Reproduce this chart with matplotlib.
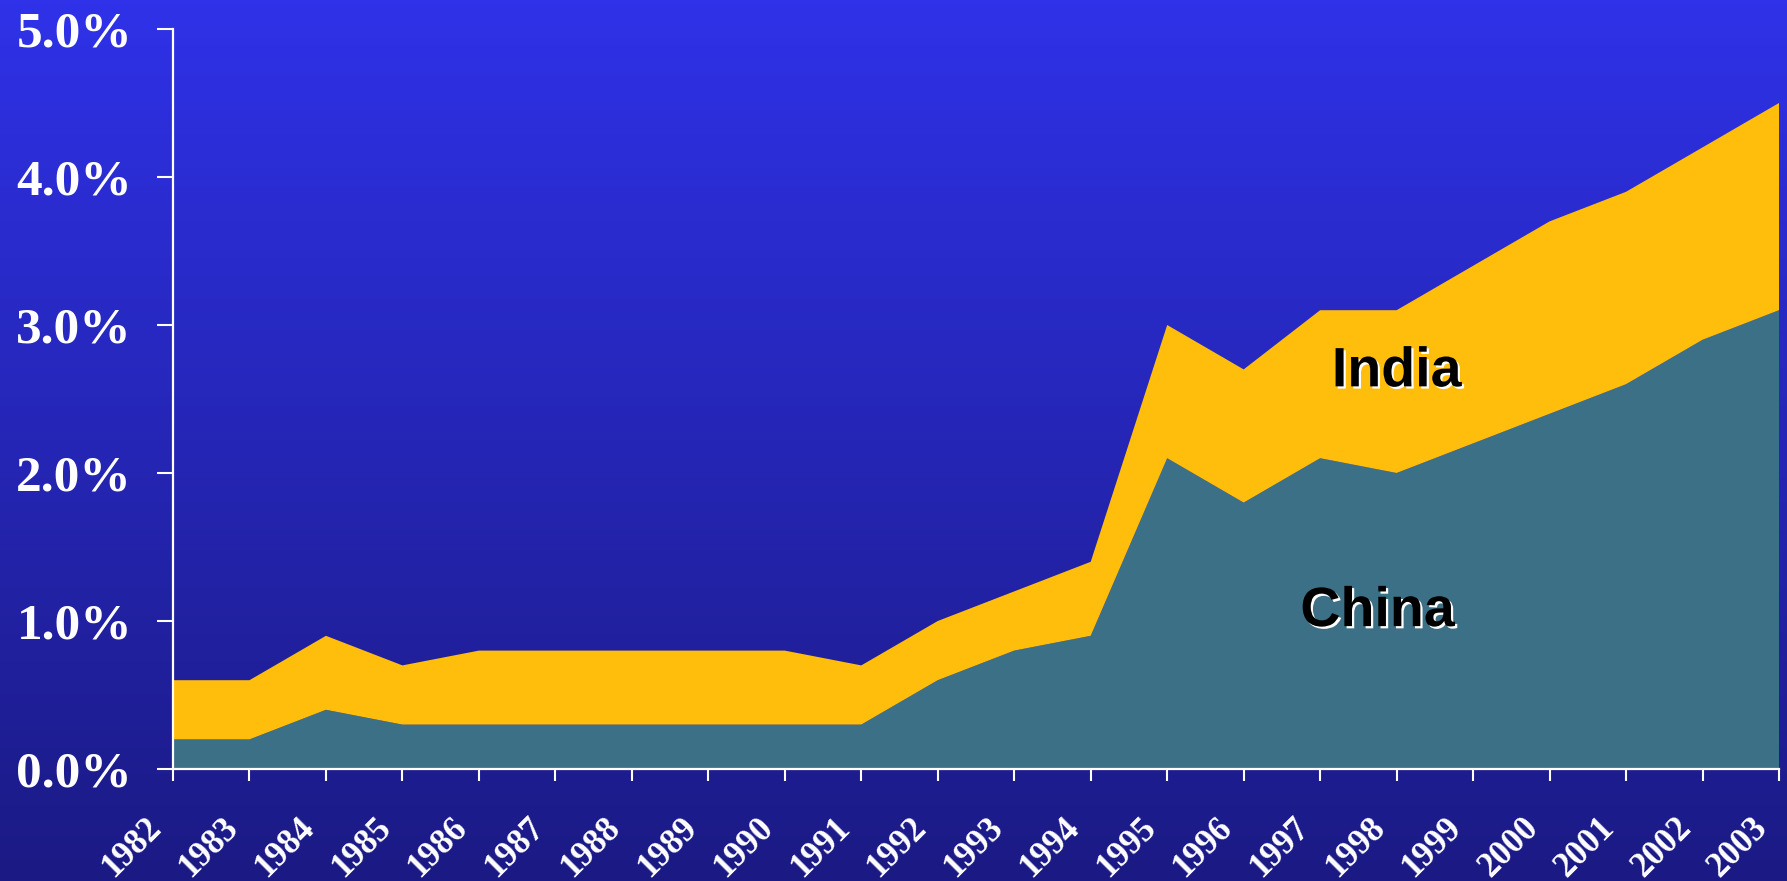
import numpy as np
import matplotlib
matplotlib.use("Agg")
import matplotlib.pyplot as plt
import matplotlib.patheffects as pe
from matplotlib.colors import LinearSegmentedColormap
from matplotlib.transforms import ScaledTranslation

years = list(range(1982, 2004))
china = [0.2, 0.2, 0.4, 0.3, 0.3, 0.3, 0.3, 0.3, 0.3, 0.3, 0.6,
         0.8, 0.9, 2.1, 1.8, 2.1, 2.0, 2.2, 2.4, 2.6, 2.9, 3.1]
india = [0.4, 0.4, 0.5, 0.4, 0.5, 0.5, 0.5, 0.5, 0.5, 0.4, 0.4,
         0.4, 0.5, 0.9, 0.9, 1.0, 1.1, 1.2, 1.3, 1.3, 1.3, 1.4]
y_ticks = [0, 1, 2, 3, 4, 5]
y_labels = ["0.0%", "1.0%", "2.0%", "3.0%", "4.0%", "5.0%"]

W, H, DPI = 1787, 881, 100
fig = plt.figure(figsize=(W / DPI, H / DPI), dpi=DPI)

# vertical gradient background
bg = fig.add_axes([0, 0, 1, 1], zorder=-10)
grad = np.linspace(0, 1, 256).reshape(-1, 1)
cmap = LinearSegmentedColormap.from_list("bg", ["#2F32E8", "#1B1A84"])
bg.imshow(grad, aspect="auto", cmap=cmap, extent=[0, 1, 0, 1])
bg.set_axis_off()

ax = fig.add_axes([173 / W, 1 - 769 / H, (1779 - 173) / W, (769 - 29) / H])
ax.set_facecolor("none")

ax.stackplot(years, china, india, colors=["#3C7086", "#FFBE0C"], linewidth=0)

ax.set_xlim(1982, 2003)
ax.set_ylim(0, 5)

for s in ["top", "right"]:
    ax.spines[s].set_visible(False)
for s in ["left", "bottom"]:
    ax.spines[s].set_color("white")
    ax.spines[s].set_linewidth(1.6)

ax.set_yticks(y_ticks)
ax.set_yticklabels(y_labels, fontfamily="Liberation Serif", fontweight="bold",
                   fontsize=37, color="white")
ax.tick_params(axis="y", direction="out", length=11.5, width=1.5,
               color="white", pad=18)

ax.set_xticks(years)
ax.set_xticklabels([str(y) for y in years], fontfamily="Liberation Serif",
                   fontweight="bold", fontsize=25, color="white",
                   rotation=45, ha="right", va="top", rotation_mode="anchor")
ax.tick_params(axis="x", direction="out", length=8.6, width=1.5,
               color="white", pad=6)
offset = ScaledTranslation(-28 / DPI, -22 / DPI, fig.dpi_scale_trans)
for lbl in ax.get_xticklabels():
    lbl.set_transform(lbl.get_transform() + offset)

shadow = [pe.withSimplePatchShadow(offset=(1.6, -1.6), shadow_rgbFace="white",
                                   alpha=1.0)]
ax.text(1998.0, 2.68, "India", fontfamily="Liberation Sans", fontweight="bold",
        fontsize=40, color="black", ha="center", va="center",
        path_effects=shadow)
ax.text(1997.75, 1.06, "China", fontfamily="Liberation Sans", fontweight="bold",
        fontsize=40, color="black", ha="center", va="center",
        path_effects=shadow)

fig.savefig("out.png", dpi=DPI)
